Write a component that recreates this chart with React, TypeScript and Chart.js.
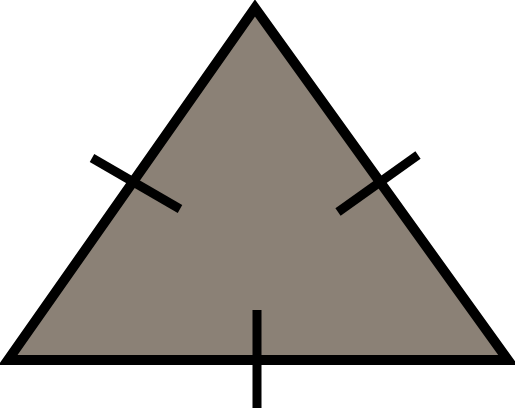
import { useEffect, useRef } from 'react'
import { Chart, registerables } from 'chart.js'

Chart.register(...registerables)

// triangle outline, in picture units (x right, y down)
const TRI_X = [8, 255, 508, 8, 255]
const TRI_Y = [360, 8, 360, 360, 8]
const BASE_Y = 360

// tick marks: [x1, y1, x2, y2]
const TICKS = [
  [92, 158, 180, 209],
  [418, 155, 338, 212],
  [257, 310, 257, 408],
]

const FILL = '#8b8176'

export default function App() {
  const canvasRef = useRef<HTMLCanvasElement>(null)
  const chartRef = useRef<Chart | null>(null)

  useEffect(() => {
    document.body.style.margin = '0'
    if (!canvasRef.current) return
    if (chartRef.current) chartRef.current.destroy()

    const tri = TRI_X.map((x, i) => ({ x, y: TRI_Y[i] }))

    chartRef.current = new Chart(canvasRef.current, {
      type: 'scatter',
      data: {
        datasets: [
          {
            data: tri.slice(0, 3),
            showLine: true,
            borderWidth: 0,
            borderColor: 'transparent',
            backgroundColor: FILL,
            pointRadius: 0,
            fill: { value: BASE_Y },
            order: 10,
          },
          {
            data: tri,
            showLine: true,
            borderWidth: 10,
            borderColor: '#000',
            borderJoinStyle: 'miter',
            pointRadius: 0,
            fill: false,
            order: 2,
          },
          ...TICKS.map(t => ({
            data: [{ x: t[0], y: t[1] }, { x: t[2], y: t[3] }],
            showLine: true,
            borderWidth: 9,
            borderColor: '#000',
            pointRadius: 0,
            fill: false,
            order: 1,
          })),
        ],
      },
      options: {
        animation: false,
        responsive: false,
        layout: { padding: 0 },
        plugins: { legend: { display: false }, tooltip: { enabled: false } },
        scales: {
          x: { type: 'linear', min: 0, max: 515, display: false },
          y: { type: 'linear', min: 0, max: 410, reverse: true, display: false },
        },
      },
    })

    return () => { chartRef.current?.destroy() }
  }, [])

  return <canvas ref={canvasRef} width={515} height={410} style={{ display: 'block' }} />
}
